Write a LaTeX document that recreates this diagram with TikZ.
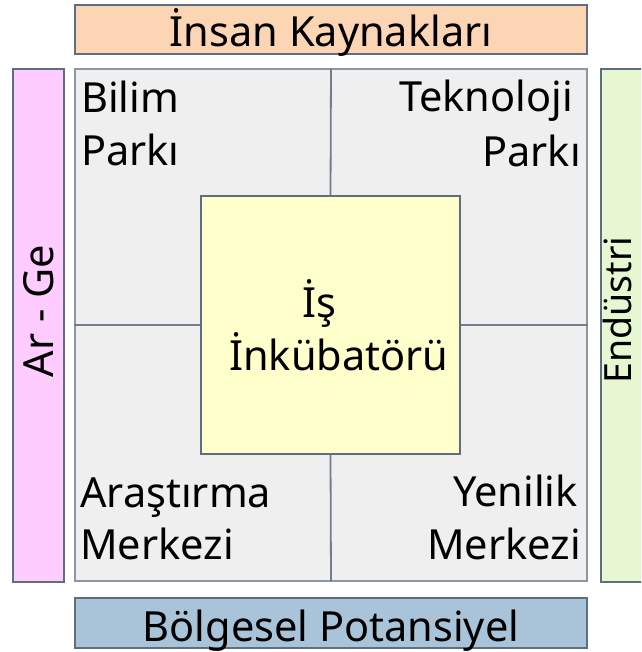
\documentclass[tikz,border=0pt]{standalone}
\usepackage{fontspec}
\setmainfont{Noto Sans}
\definecolor{peach}{HTML}{FCD5B4}
\definecolor{pinkbar}{HTML}{FFCCFF}
\definecolor{greenbar}{HTML}{E6F7D2}
\definecolor{bluebar}{HTML}{A9C3D8}
\definecolor{grayfill}{HTML}{EFEFEF}
\definecolor{yellowfill}{HTML}{FFFFCC}
\definecolor{edge}{HTML}{5F6E7E}
\definecolor{sep}{HTML}{6F7D8C}
\begin{document}
\begin{tikzpicture}[x=1pt,y=-1pt,
  bar/.style={draw=edge,line width=1.3pt,inner sep=0pt},
  lbl/.style={inner sep=0pt,font=\fontsize{41.5}{53}\selectfont},
  sepline/.style={draw=sep,line width=1.8pt}]
\useasboundingbox (0,0) rectangle (641,652);
\begin{scope}
\clip (0,0) rectangle (641,652);
% side bars
\node[bar,fill=peach,minimum width=512pt,minimum height=49pt] (top) at (331,29.5) {};
\node[bar,fill=bluebar,minimum width=512pt,minimum height=50pt] (bottom) at (331,623) {};
\node[bar,fill=pinkbar,minimum width=51pt,minimum height=513pt] (left) at (38.5,325.5) {};
\node[bar,fill=greenbar,minimum width=60pt,minimum height=513pt] (right) at (631,325.5) {};
% main square
\node[draw=sep!80,line width=1.3pt,fill=grayfill,minimum width=512pt,minimum height=512pt,inner sep=0pt] (main) at (331,325) {};
\node[draw=edge,line width=1.3pt,fill=yellowfill,minimum width=259pt,minimum height=258pt,inner sep=0pt] (inc) at (330.5,325) {};
\draw[sepline] (main.north) -- (inc.north);
\draw[sepline] (main.south) -- (inc.south);
\draw[sepline] (main.west) -- (inc.west);
\draw[sepline] (main.east) -- (inc.east);
% labels
\node[lbl,anchor=base] (ttop) at (331,47) {İnsan Kaynakları};
\node[lbl,anchor=base] (tbot) at (331,641) {Bölgesel Potansiyel};
\node[lbl,anchor=base,rotate=90] (tleft) at (53,311) {Ar - Ge};
\node[lbl,anchor=base,rotate=90,font=\fontsize{37.5}{45}\selectfont] (tright) at (631,310) {Endüstri};
\node[lbl,anchor=base west] (b1) at (81,113) {Bilim};
\node[lbl,anchor=base west] (b2) at (81,166) {Parkı};
\node[lbl,anchor=base east] (t1) at (573,112) {Teknoloji};
\node[lbl,anchor=base east] (t2) at (581,167) {Parkı};
\node[lbl,anchor=base west] (a1) at (80,507) {Araştırma};
\node[lbl,anchor=base west] (a2) at (80,559) {Merkezi};
\node[lbl,anchor=base east] (y1) at (578,506) {Yenilik};
\node[lbl,anchor=base east] (y2) at (581,559) {Merkezi};
\node[lbl,anchor=base west] (i1) at (302,317) {İş};
\node[lbl,anchor=base west] (i2) at (229,370) {İnkübatörü};
\end{scope}
\end{tikzpicture}
\end{document}
